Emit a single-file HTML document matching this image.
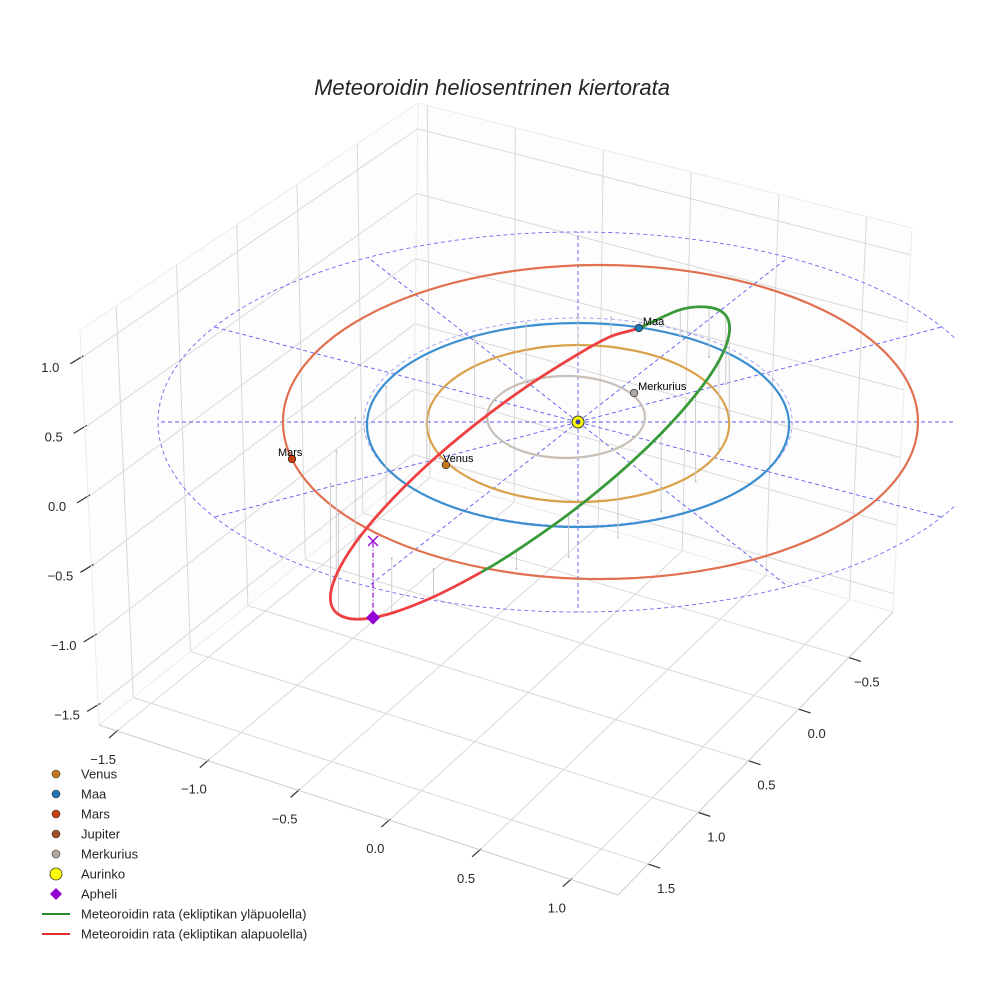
<!DOCTYPE html>
<html><head><meta charset="utf-8"><style>
html,body{margin:0;padding:0;background:#fff;}
svg{display:block;font-family:"Liberation Sans",sans-serif;}
</style></head><body>
<svg id="chart" width="984" height="984" viewBox="0 0 984 984" xmlns="http://www.w3.org/2000/svg">
<text x="492" y="95" text-anchor="middle" font-size="22" font-style="italic" fill="#262626">Meteoroidin heliosentrinen kiertorata</text>
<defs><clipPath id="clipPlot"><rect x="0" y="0" width="955" height="984"/></clipPath></defs>
<g id="box"></g>
<g id="plot" clip-path="url(#clipPlot)"></g>
<g id="legend"></g>
</svg>
<script>
// ---- data ----
const xTicks = [-1.5, -1.0, -0.5, 0.0, 0.5, 1.0];
const yTicks = [-0.5, 0.0, 0.5, 1.0, 1.5];
const zTicks = [-1.5, -1.0, -0.5, 0.0, 0.5, 1.0];
const xRange = [-1.6, 1.26];
const yRange = [1.80, -0.94];
const zRange = [-1.64, 1.2];

const orbitNames = ['Merkurius', 'Venus', 'Maa', 'Mars'];
const orbitCx = [-0.057, 0.0, 0.0, 0.107];
const orbitCy = [0.05, -0.015, -0.03, 0.0];
const orbitRx = [0.376, 0.72, 1.005, 1.512];
const orbitRy = [0.41, 0.785, 1.02, 1.57];
const orbitColors = ['#c8c0b8', '#d9a24a', '#3b8fd0', '#e07050'];

const planetNames = ['Venus', 'Maa', 'Mars', 'Merkurius'];
const planetX = [-0.629, 0.29, -1.362, 0.267];
const planetY = [-0.43, 0.94, -0.37, 0.29];
const planetColors = ['#c8781c', '#1f77b4', '#c8400e', '#b0a8a0'];

const ringR = [2.0, 1.02];
const ringRy = [1.9, 1.04];
const spokeAngles = [0, 30, 60, 90, 120, 150, 180, 210, 240, 270, 300, 330];

// meteoroid orbit samples (ecliptic x, y and height z)
const metX = [0.290,0.487,0.624,0.704,0.720,0.671,0.560,0.396,0.190,-0.045,-0.293,-0.461,-0.688,-0.887,-1.042,-1.141,-1.179,-1.151,-1.061,-0.914,-0.720,-0.492,-0.247,-0.001,0.157,0.290];
const metY = [0.940,0.862,0.651,0.380,0.068,-0.266,-0.592,-0.896,-1.155,-1.348,-1.467,-1.502,-1.471,-1.361,-1.176,-0.919,-0.620,-0.292,0.041,0.353,0.630,0.846,0.990,1.052,1.046,0.940];
const metZ = [0,0.261,0.496,0.685,0.815,0.877,0.864,0.781,0.633,0.427,0.181,0,-0.278,-0.550,-0.796,-1.004,-1.154,-1.238,-1.252,-1.191,-1.064,-0.875,-0.640,-0.375,-0.190,0];
const aphelion = [-0.976, -1.19, -0.766];
const sunPos = [0, 0, 0];

// ---- helpers ----
const NS = 'http://www.w3.org/2000/svg';
function mk(tag, attrs, parent){const e=document.createElementNS(NS,tag);for(const k in attrs)e.setAttribute(k,attrs[k]);parent.appendChild(e);return e;}
const CX=578, CY=422, SX=210, SY=100, SZ=100;
function P(x,y,z){return [CX+SX*x, CY-SY*y-SZ*z];}

// ---- box ----
const box=document.getElementById('box');
const A=[99,725], B=[413,473], R=[893,612], F=[618,895];
const At=[80,330], Bt=[418,103], Rt=[912,228];
function lerp(p,q,t){return [p[0]+(q[0]-p[0])*t, p[1]+(q[1]-p[1])*t];}
function inter(p1,p2,q1,q2){
  const d1=[p2[0]-p1[0],p2[1]-p1[1]], d2=[q2[0]-q1[0],q2[1]-q1[1]];
  const den=d1[0]*d2[1]-d1[1]*d2[0];
  const s=((q1[0]-p1[0])*d2[1]-(q1[1]-p1[1])*d2[0])/den;
  return [p1[0]+d1[0]*s, p1[1]+d1[1]*s];
}
function line(p,q,attrs,parent){return mk('line',Object.assign({x1:p[0],y1:p[1],x2:q[0],y2:q[1]},attrs),parent);}
const VPy=inter(At,Bt,F,R), VPx=inter(A,F,Bt,Rt), VPz=inter(A,At,R,Rt);
const gridAttr={stroke:'#d9d9d9','stroke-width':1};
mk('polygon',{points:[A,B,Bt,At].map(p=>p.join(',')).join(' '),fill:'#fdfdfd',stroke:'none'},box);
mk('polygon',{points:[B,R,Rt,Bt].map(p=>p.join(',')).join(' '),fill:'#fdfdfd',stroke:'none'},box);
xTicks.forEach(v=>{
  const t=(v-xRange[0])/(xRange[1]-xRange[0]);
  const f1=lerp(A,F,t), f2=inter(f1,VPy,B,R), w2=inter(f2,VPz,Bt,Rt);
  const g=line(f1,f2,gridAttr,box);  
  line(f2,w2,gridAttr,box);
  const tk=line([f1[0]+1,f1[1]-1],[f1[0]-8,f1[1]+7],{stroke:'#333','stroke-width':1.2},box);
   
  const lb=mk('text',{x:f1[0]-14,y:f1[1]+33,'text-anchor':'middle','font-size':13,fill:'#262626'},box);
  lb.textContent=v.toFixed(1).replace('-','\u2212');
   
});
yTicks.forEach(v=>{
  const t=(v-yRange[0])/(yRange[1]-yRange[0]);
  const f1=lerp(F,R,t), f2=inter(f1,VPx,A,B), w2=inter(f2,VPz,At,Bt);
  const g=line(f1,f2,gridAttr,box);  
  line(f2,w2,gridAttr,box);
  const tk=line(f1,[f1[0]+12,f1[1]+4],{stroke:'#333','stroke-width':1.2},box);
   
  const lb=mk('text',{x:f1[0]+18,y:f1[1]+29,'text-anchor':'middle','font-size':13,fill:'#262626'},box);
  lb.textContent=v.toFixed(1).replace('-','\u2212');
   
});
zTicks.forEach(v=>{
  const t=(v-zRange[0])/(zRange[1]-zRange[0]);
  const a=lerp(A,At,t), b=inter(a,VPy,B,Bt), r=inter(b,VPx,R,Rt);
  const g=line(a,b,gridAttr,box);  
  line(b,r,gridAttr,box);
  const tk=line([a[0]+2,a[1]-2],[a[0]-11,a[1]+6],{stroke:'#333','stroke-width':1.2},box);
   
  const lb=mk('text',{x:a[0]-31,y:a[1]+14,'text-anchor':'middle','font-size':13,fill:'#262626'},box);
  lb.textContent=v.toFixed(1).replace('-','\u2212');
   
});
[[A,At],[B,Bt],[R,Rt],[At,Bt],[Bt,Rt],[A,B],[B,R]].forEach(e=>line(e[0],e[1],{stroke:'#ececec','stroke-width':1},box));
line(A,F,{stroke:'#cccccc','stroke-width':1},box);
line(F,R,{stroke:'#cccccc','stroke-width':1},box);

// ---- plot ----
const plot=document.getElementById('plot');
ringR.forEach((r,i)=>{
  const c=P(0,0,0);
  const e=mk('ellipse',{cx:c[0],cy:c[1],rx:SX*r,ry:SY*ringRy[i],fill:'none',stroke:'#5c5cf0','stroke-width':0.9,'stroke-dasharray':'4,3',opacity:i?0.6:0.9},plot);
   
});
spokeAngles.forEach(a=>{
  const rad=a*Math.PI/180;
  const p1=P(0,0,0), p2=P(ringR[0]*Math.cos(rad), ringRy[0]*Math.sin(rad), 0);
  const l=line(p1,p2,{stroke:'#5c5cf0','stroke-width':0.9,'stroke-dasharray':'4,3'},plot);
   
});
orbitNames.forEach((nm,i)=>{
  const c=P(orbitCx[i],orbitCy[i],0);
  const e=mk('ellipse',{cx:c[0],cy:c[1],rx:SX*orbitRx[i],ry:SY*orbitRy[i],fill:'none',stroke:orbitColors[i],'stroke-width':2.2},plot);
   
});
metX.forEach((x,i)=>{
  const p=P(x,metY[i],metZ[i]), q=P(x,metY[i],0);
  const l=line(p,q,{stroke:'#c8c8c8','stroke-width':0.9},plot);
   
  const d=mk('circle',{cx:q[0],cy:q[1],r:1,fill:'#bbbbbb'},plot);
   
});
const allPts=metX.map((x,i)=>P(x,metY[i],metZ[i]));
const gEnd=metZ.findIndex((z,i)=>i>0&&z<=0);
const greenPts=allPts.slice(0,gEnd+1);
const redPts=allPts.slice(gEnd);
function pathWithTangents(pts,prev,next){
  const ext=[prev].concat(pts,[next]);
  let d='M'+pts[0][0]+','+pts[0][1];
  for(let i=1;i<ext.length-2;i++){
    const p0=ext[i-1],p1=ext[i],p2=ext[i+1],p3=ext[i+2];
    const c1=[p1[0]+(p2[0]-p0[0])/6,p1[1]+(p2[1]-p0[1])/6], c2=[p2[0]-(p3[0]-p1[0])/6,p2[1]-(p3[1]-p1[1])/6];
    d+=' C'+c1.join(',')+' '+c2.join(',')+' '+p2.join(',');
  }
  return d;
}
const n=allPts.length;
const gp=mk('path',{d:pathWithTangents(greenPts,allPts[n-2],allPts[gEnd+1]),fill:'none',stroke:'#3a9a3a','stroke-width':2.8},plot);
 
const rp=mk('path',{d:pathWithTangents(redPts,allPts[gEnd-1],allPts[1]),fill:'none',stroke:'#ee4040','stroke-width':2.8},plot);
 
const ap=P(aphelion[0],aphelion[1],aphelion[2]), ap0=P(aphelion[0],aphelion[1],0);
const al=line(ap,ap0,{stroke:'#9400d3','stroke-width':1.2,'stroke-dasharray':'5,2,1,2'},plot);
 
const ax=mk('path',{d:`M${ap0[0]-5},${ap0[1]-5}L${ap0[0]+5},${ap0[1]+5}M${ap0[0]-5},${ap0[1]+5}L${ap0[0]+5},${ap0[1]-5}`,stroke:'#9400d3','stroke-width':1.3},plot);
 
const ad=mk('path',{d:`M${ap[0]},${ap[1]-7}L${ap[0]+7},${ap[1]}L${ap[0]},${ap[1]+7}L${ap[0]-7},${ap[1]}Z`,fill:'#9400d3'},plot);
 
const sp=P(sunPos[0],sunPos[1],sunPos[2]);
const sun=mk('circle',{cx:sp[0],cy:sp[1],r:6,fill:'#ffff00',stroke:'#333','stroke-width':1},plot);
 
mk('circle',{cx:sp[0],cy:sp[1],r:2.5,fill:'#3a3aa0'},plot);
const labelDx=[-3,4,-14,4];
planetNames.forEach((nm,i)=>{
  const p=P(planetX[i],planetY[i],0);
  const c=mk('circle',{cx:p[0],cy:p[1],r:3.8,fill:planetColors[i],stroke:'#222','stroke-width':0.7},plot);
   
  const t=mk('text',{x:p[0]+labelDx[i],y:p[1]-3,'font-size':11,fill:'#000'},plot);
  t.textContent=nm;
   
});

// ---- legend ----
const lg=document.getElementById('legend');
const legLabels=['Venus','Maa','Mars','Jupiter','Merkurius','Aurinko','Apheli','Meteoroidin rata (ekliptikan yläpuolella)','Meteoroidin rata (ekliptikan alapuolella)'];
const legColors=['#c8781c','#1f77b4','#c8400e','#a0522d','#b0a8a0','#ffff00','#9400d3','#2a8a2a','#e03030'];
legLabels.forEach((l,i)=>{
  const y=774+i*20;
  const g=mk('g',{},lg);
   
  if(i<5) mk('circle',{cx:56,cy:y,r:4,fill:legColors[i],stroke:'#333','stroke-width':0.6},g);
  else if(i===5) mk('circle',{cx:56,cy:y,r:6,fill:legColors[i],stroke:'#333','stroke-width':0.8},g);
  else if(i===6) mk('path',{d:`M56,${y-6}L62,${y}L56,${y+6}L50,${y}Z`,fill:legColors[i]},g);
  else mk('line',{x1:42,y1:y,x2:70,y2:y,stroke:legColors[i],'stroke-width':2},g);
  const t=mk('text',{x:81,y:y+4.5,'font-size':13,fill:'#262626'},g);
  t.textContent=l;
});
</script>
</body></html>
